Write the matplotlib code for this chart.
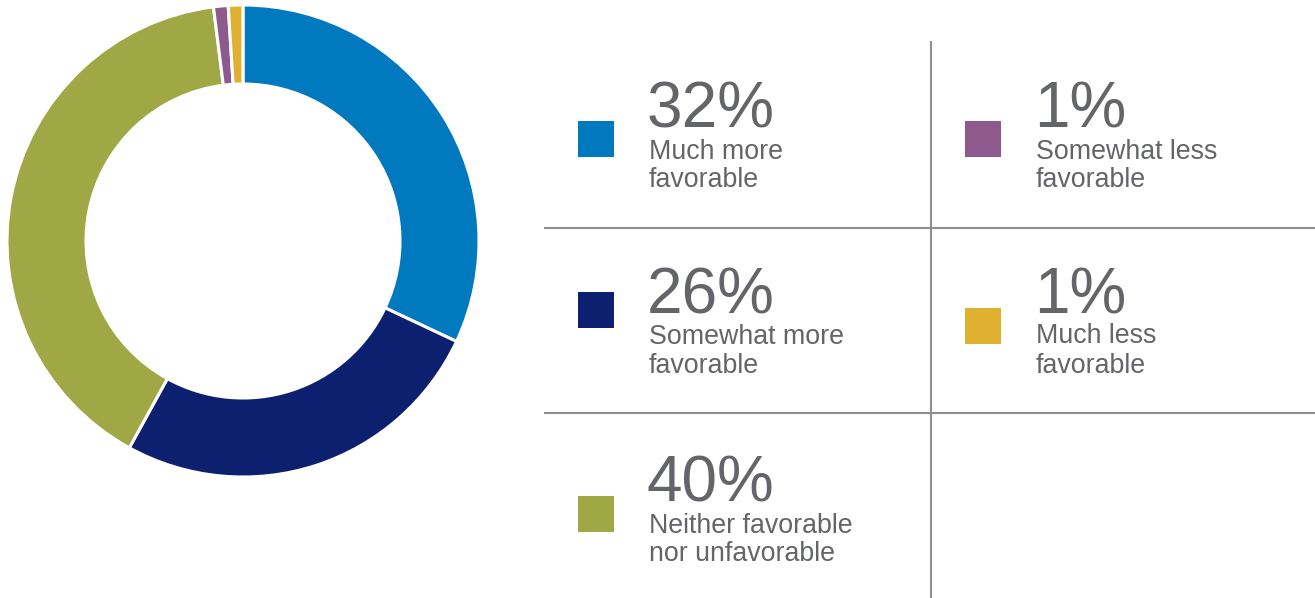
import matplotlib
matplotlib.use("Agg")
from matplotlib import pyplot as plt
from matplotlib.patches import Rectangle

plt.rcParams['font.family'] = ['Liberation Sans', 'DejaVu Sans']

# survey shares, clockwise from 12 o'clock
categories = ['Much more\nfavorable', 'Somewhat more\nfavorable', 'Neither favorable\nnor unfavorable',
              'Somewhat less\nfavorable', 'Much less\nfavorable']
shares = [32, 26, 40, 1, 1]
colors = ['#0079be', '#0d2070', '#a0a846', '#8e5a8e', '#e0b030']

TEXT_GRAY = '#646569'
LINE_GRAY = '#8f8f8f'
W, H = 1315, 598

fig = plt.figure(figsize=(W / 100, H / 100), dpi=100)

# canvas axes in pixel units (y down) for the legend grid
ax = fig.add_axes([0, 0, 1, 1])
ax.set_xlim(0, W)
ax.set_ylim(H, 0)
ax.axis('off')

# donut
cx, cy, r_out, r_in = 243, 241, 236, 157
pax = fig.add_axes([(cx - r_out) / W, (H - cy - r_out) / H, 2 * r_out / W, 2 * r_out / H])
pax.pie(shares, colors=colors, startangle=90, counterclock=False, radius=1,
        wedgeprops=dict(width=(r_out - r_in) / r_out, edgecolor='white', linewidth=2.2))
pax.set_xlim(-1, 1)
pax.set_ylim(-1, 1)
pax.set_aspect('equal')
pax.axis('off')

# grid separating the legend cells
ax.plot([931, 931], [41, H], color=LINE_GRAY, lw=1.5, solid_capstyle='butt')
for y in (228, 413):
    ax.plot([544, W], [y, y], color=LINE_GRAY, lw=1.5, solid_capstyle='butt')

# square x, square top, text x, number baseline, label baselines
cells = [
    (578, 121, 649, 127, (159, 187)),
    (578, 292, 649, 314, (344, 373)),
    (578, 496, 649, 501, (533, 561)),
    (965, 121, 1036, 127, (159, 187)),
    (965, 308, 1036, 313, (343, 373)),
]

for (sx, sy, tx, nb, lbs), label, v, c in zip(cells, categories, shares, colors):
    ax.add_patch(Rectangle((sx, sy), 36, 36, facecolor=c, edgecolor='none'))
    ax.text(tx - 2, nb, f'{v}%', fontsize=46, color=TEXT_GRAY, va='baseline', ha='left')
    for line, b in zip(label.split('\n'), lbs):
        ax.text(tx, b, line, fontsize=19.3, color=TEXT_GRAY, va='baseline', ha='left')

fig.savefig('out.png', dpi=100)
